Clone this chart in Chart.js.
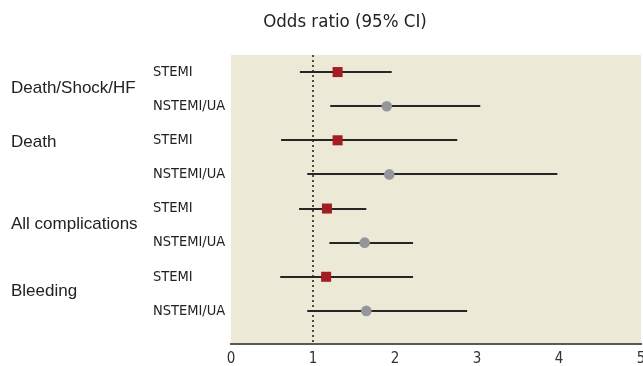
<!DOCTYPE html>
<html>
<head>
<meta charset="utf-8">
<script src="https://cdn.jsdelivr.net/npm/chart.js@4"></script>
<style>
  html, body { margin: 0; padding: 0; background: #fff; }
  #wrap { width: 643px; height: 366px; }
</style>
</head>
<body>
<div id="wrap"><canvas id="forest"></canvas></div>
<script>
// Rows, top to bottom
var rowLabels = ['STEMI', 'NSTEMI/UA', 'STEMI', 'NSTEMI/UA', 'STEMI', 'NSTEMI/UA', 'STEMI', 'NSTEMI/UA'];
var groupLabels = ['Death/Shock/HF', 'Death', 'All complications', 'Bleeding'];

// Odds ratios with 95% CI
var oddsRatio = [1.30, 1.90, 1.30, 1.93, 1.17, 1.63, 1.16, 1.65];
var ciLow     = [0.84, 1.21, 0.61, 0.93, 0.83, 1.20, 0.60, 0.93];
var ciHigh    = [1.96, 3.04, 2.76, 3.98, 1.65, 2.22, 2.22, 2.88];

var xTicks = [0, 1, 2, 3, 4, 5];

var narrow = '"Liberation Sans Narrow", "DejaVu Sans Condensed", "Liberation Sans", sans-serif';
var plain = '"Liberation Sans", Arial, sans-serif';

// split into the two marker series
var stemiPts = [], nstemiPts = [];
rowLabels.forEach(function (lab, i) {
  var p = { x: oddsRatio[i], y: i };
  if (lab === 'STEMI') stemiPts.push(p); else nstemiPts.push(p);
});

var forestPlugin = {
  id: 'forest',
  beforeDraw: function (chart) {
    var ctx = chart.ctx, a = chart.chartArea;
    ctx.save();
    ctx.fillStyle = '#ECE9D6';
    ctx.fillRect(a.left, a.top, a.right - a.left, a.bottom - a.top);
    ctx.restore();
  },
  beforeDatasetsDraw: function (chart) {
    var ctx = chart.ctx, a = chart.chartArea;
    var xs = chart.scales.x, ys = chart.scales.y;
    ctx.save();
    // reference line at OR = 1
    ctx.strokeStyle = '#4a4a4a';
    ctx.lineWidth = 2;
    ctx.setLineDash([2, 3]);
    ctx.beginPath();
    ctx.moveTo(Math.round(xs.getPixelForValue(1)), a.top);
    ctx.lineTo(Math.round(xs.getPixelForValue(1)), a.bottom);
    ctx.stroke();
    ctx.setLineDash([]);
    // confidence intervals
    ctx.strokeStyle = '#262626';
    ctx.lineWidth = 2;
    for (var i = 0; i < oddsRatio.length; i++) {
      var y = Math.round(ys.getPixelForValue(i));
      ctx.beginPath();
      ctx.moveTo(xs.getPixelForValue(ciLow[i]), y);
      ctx.lineTo(xs.getPixelForValue(ciHigh[i]), y);
      ctx.stroke();
    }
    ctx.restore();
  },
  afterDraw: function (chart) {
    var ctx = chart.ctx, ys = chart.scales.y;
    ctx.save();
    // title
    ctx.fillStyle = '#222';
    ctx.font = '18.5px ' + narrow;
    ctx.textAlign = 'center';
    ctx.textBaseline = 'middle';
    ctx.fillText('Odds ratio (95% CI)', 345, 22);
    // outcome groups
    var groupPos = [0.47, 2.05, 4.45, 6.44];
    ctx.font = '17px ' + plain;
    ctx.textAlign = 'left';
    groupLabels.forEach(function (g, k) {
      ctx.fillText(g, 11, ys.getPixelForValue(groupPos[k]));
    });
    ctx.restore();
  }
};

var ctx = document.getElementById('forest').getContext('2d');
var forestChart = new Chart(ctx, {
  type: 'scatter',
  data: {
    datasets: [{
      label: 'STEMI',
      data: stemiPts,
      pointStyle: 'rect',
      pointRadius: 7.1,
      pointHoverRadius: 7.1,
      backgroundColor: '#A51D24',
      borderWidth: 0
    }, {
      label: 'NSTEMI/UA',
      data: nstemiPts,
      pointStyle: 'circle',
      pointRadius: 5.3,
      pointHoverRadius: 5.3,
      backgroundColor: '#95969B',
      borderWidth: 0
    }]
  },
  options: {
    responsive: true,
    maintainAspectRatio: false,
    animation: false,
    layout: { autoPadding: false, padding: { left: 153, top: 55, right: 2, bottom: 0 } },
    plugins: {
      legend: { display: false },
      tooltip: { enabled: false }
    },
    scales: {
      x: {
        type: 'linear',
        min: 0,
        max: 5,
        afterBuildTicks: function (scale) {
          scale.ticks = xTicks.map(function (v) { return { value: v }; });
        },
        afterFit: function (scale) {
          scale.height = 22;
          scale.paddingRight = 0;
        },
        grid: { display: false, drawTicks: false },
        border: { color: '#5a5a5a', width: 2 },
        ticks: {
          color: '#333',
          padding: 6,
          font: { family: narrow, size: 15 }
        }
      },
      y: {
        type: 'linear',
        reverse: true,
        min: -0.5,
        max: 7.97,
        afterBuildTicks: function (scale) {
          scale.ticks = rowLabels.map(function (_, i) { return { value: i }; });
        },
        afterFit: function (scale) { scale.width = 78; },
        grid: { display: false, drawTicks: false },
        border: { display: false },
        ticks: {
          crossAlign: 'far',
          color: '#222',
          font: { family: narrow, size: 14.5 },
          callback: function (v) { return rowLabels[v]; }
        }
      }
    }
  },
  plugins: [forestPlugin]
});
</script>
</body>
</html>
